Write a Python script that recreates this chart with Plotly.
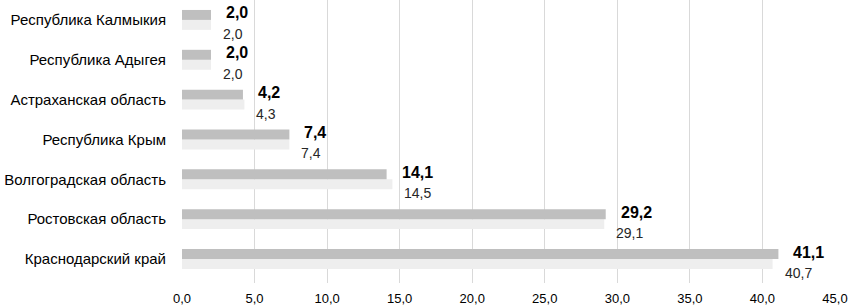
import plotly.graph_objects as go

categories = ["Краснодарский край", "Ростовская область", "Волгоградская область",
              "Республика Крым", "Астраханская область", "Республика Адыгея",
              "Республика Калмыкия"]
series_bold = [41.1, 29.2, 14.1, 7.4, 4.2, 2.0, 2.0]
series_light = [40.7, 29.1, 14.5, 7.4, 4.3, 2.0, 2.0]
x_ticks = [0, 5, 10, 15, 20, 25, 30, 35, 40, 45]

FONT = "Liberation Sans"

fig = go.Figure()
fig.add_trace(go.Bar(y=categories, x=series_light, orientation="h",
                     marker=dict(color="#eeeeee", line=dict(width=0)),
                     hoverinfo="x+y", showlegend=False))
fig.add_trace(go.Bar(y=categories, x=series_bold, orientation="h",
                     marker=dict(color="#bfbfbf", line=dict(width=0)),
                     hoverinfo="x+y", showlegend=False))

def fmt(v):
    return f"{v:.1f}".replace(".", ",")

annotations = []
for c, v in zip(categories, series_bold):
    annotations.append(dict(x=v, y=c, xref="x", yref="y", text=f"<b>{fmt(v)}</b>",
                            showarrow=False, xanchor="left", yanchor="middle",
                            xshift=13, yshift=7,
                            font=dict(family=FONT, size=16, color="#000000")))
for c, v in zip(categories, series_light):
    annotations.append(dict(x=v, y=c, xref="x", yref="y", text=fmt(v),
                            showarrow=False, xanchor="left", yanchor="middle",
                            xshift=10, yshift=-14,
                            font=dict(family=FONT, size=14, color="#262626")))

fig.update_layout(
    width=850, height=307,
    margin=dict(l=182, r=15, t=0, b=24),
    paper_bgcolor="white", plot_bgcolor="white",
    barmode="group", bargap=0.5, bargroupgap=0,
    separators=", ",
    font=dict(family=FONT, size=13, color="#000000"),
    annotations=annotations,
    xaxis=dict(range=[0, 45], tickvals=x_ticks, tickformat=".1f",
               showgrid=True, gridcolor="#d9d9d9", gridwidth=1,
               zeroline=False, showline=False, ticks="", automargin=False,
               ticklabelstandoff=6,
               tickfont=dict(family=FONT, size=13, color="#000000")),
    yaxis=dict(showgrid=False, zeroline=False, showline=False, ticks="",
               automargin=False, ticklabelstandoff=15,
               tickfont=dict(family=FONT, size=15, color="#000000")),
)

fig.write_html("out.html", config={"displayModeBar": False},
               post_script="document.body.style.margin='0';document.body.style.overflow='hidden';")
